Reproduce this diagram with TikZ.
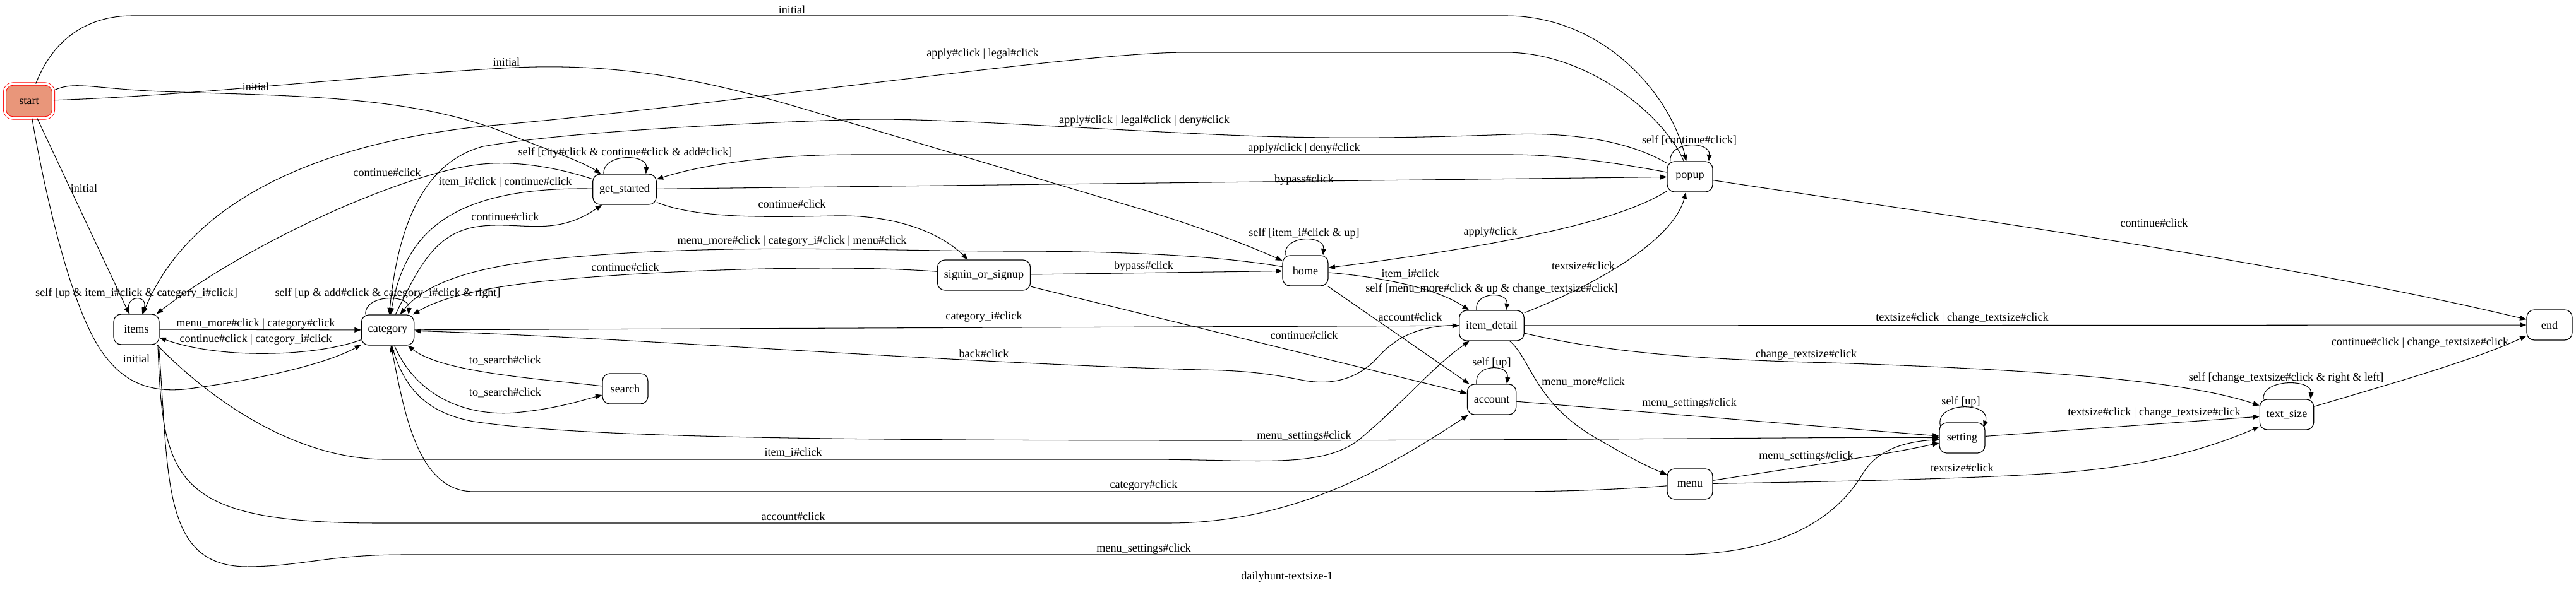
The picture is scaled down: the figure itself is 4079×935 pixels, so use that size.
\documentclass[tikz,border=0pt]{standalone}
\usepackage{fontspec}
\setmainfont{Liberation Serif}
\usetikzlibrary{arrows.meta}
\definecolor{salm}{RGB}{233,150,122}
\newcommand{\lf}{\fontsize{14pt}{16pt}\selectfont}
\begin{document}
\begin{tikzpicture}[x=0.77pt,y=-0.77pt,
  st/.style={draw, line width=0.9pt, rounded corners=9pt, minimum width=55.4pt, minimum height=37pt, inner xsep=8pt, font=\lf},
  startst/.style={draw=red, line width=0.7pt, double=white, double distance=2.6pt, fill=salm, rounded corners=10pt, minimum width=59.3pt, minimum height=41.6pt, font=\lf},
  e/.style={line width=0.8pt, -{Triangle[length=8pt,width=6pt]}},
  lb/.style={inner sep=0pt, font=\lf}]
\useasboundingbox (0,0) rectangle (4079,935);
% nodes
\node[startst] (start) at (46,160) {start};
\node[st] (items) at (216,522) {items};
\node[st] (category) at (614,523) {category};
\node[st] (get_started) at (989,300) {get\_started};
\node[st] (search) at (990,616) {search};
\node[st] (signin) at (1558,436) {signin\_or\_signup};
\node[st] (home) at (2067,429) {home};
\node[st] (popup) at (2676,280) {popup};
\node[st] (item_detail) at (2362,516) {item\_detail};
\node[st] (account) at (2362,633) {account};
\node[st] (menu) at (2676,767) {menu};
\node[st] (setting) at (3107,694) {setting};
\node[st] (text_size) at (3621,657) {text\_size};
\node[st] (end) at (4037,515) {end};
\node[lb] (title) at (2038,914) {dailyhunt-textsize-1};
% edges from start
\draw[e] (start) .. controls (85,60) and (140,25) .. (210,25) -- (2384,25) .. controls (2540,25) and (2645,150) .. (popup);
\draw[e] (start) .. controls (120,128) and (140,140) .. (255,145) .. controls (450,152) and (640,150) .. (791,207) .. controls (860,235) and (920,255) .. (get_started);
\draw[e] (start) .. controls (300,152) and (550,122) .. (797,108) .. controls (1000,96) and (1150,135) .. (1321,187) -- (1812,333) .. controls (1920,366) and (1990,395) .. (home);
\draw[e] (start) -- (items);
\draw[e] (start) .. controls (70,300) and (110,480) .. (159,554) .. controls (190,600) and (230,625) .. (300,616) .. controls (420,600) and (520,575) .. (category);
% popup edges
\draw[e] (popup) .. controls (2640,190) and (2520,83) .. (2384,83) -- (1880,83) .. controls (1760,83) and (1500,118) .. (1200,153) .. controls (1000,177) and (880,190) .. (765,200) .. controls (500,228) and (300,320) .. (items);
\draw[e] (popup) .. controls (2570,218) and (2470,210) .. (2391,213) .. controls (2250,218) and (2100,222) .. (1900,212) .. controls (1650,200) and (1450,185) .. (1335,190) .. controls (1100,198) and (880,212) .. (765,232) .. controls (660,260) and (628,380) .. (category);
\draw[e] (popup) .. controls (2560,258) and (2470,245) .. (2391,245) -- (1356,245) .. controls (1200,245) and (1100,265) .. (get_started);
\draw[e] (get_started) -- (popup);
\draw[e] (popup) .. controls (2580,340) and (2450,380) .. (home);
\draw[e] (popup) .. controls (3000,330) and (3600,410) .. (end);
% get_started edges
\draw[e] (get_started) .. controls (880,265) and (820,255) .. (765,260) .. controls (650,270) and (400,380) .. (items);
\draw[e] (get_started) .. controls (700,295) and (640,380) .. (category);
\draw[e] (category) .. controls (665,420) and (690,365) .. (765,358) .. controls (830,352) and (880,375) .. (get_started);
\draw[e] (get_started) .. controls (1100,345) and (1200,345) .. (1321,342) .. controls (1420,340) and (1490,370) .. (signin);
% home, signin
\draw[e] (home) .. controls (1900,400) and (1700,398) .. (1602,398) .. controls (1400,398) and (1150,385) .. (900,408) .. controls (780,418) and (680,440) .. (category);
\draw[e] (signin) .. controls (1350,420) and (1100,425) .. (900,442) .. controls (780,452) and (700,470) .. (category);
\draw[e] (signin) -- (home);
\draw[e] (signin) -- (account);
\draw[e] (home) .. controls (2200,440) and (2280,460) .. (item_detail);
\draw[e] (home) -- (account);
% item_detail
\draw[e] (item_detail) .. controls (2530,450) and (2650,380) .. (popup);
\draw[e] (item_detail) -- (end);
\draw[e] (item_detail) .. controls (2550,560) and (2700,570) .. (2900,575) .. controls (3200,585) and (3450,600) .. (text_size);
\draw[e] (item_detail) .. controls (2425,570) and (2430,640) .. (2532,697) .. controls (2580,725) and (2610,740) .. (menu);
\draw[e] (item_detail) .. controls (2240,515) and (2205,540) .. (2180,568) .. controls (2150,600) and (2110,612) .. (2060,602) .. controls (2000,590) and (1960,587) .. (1900,586) .. controls (1500,575) and (1000,535) .. (category);
\draw[e] (category) -- (item_detail);
% settings etc
\draw[e] (account) -- (setting);
\draw[e] (category) .. controls (640,620) and (680,655) .. (750,668) .. controls (900,690) and (1200,698) .. (1900,698) .. controls (2500,698) and (2900,692) .. (setting);
\draw[e] (menu) .. controls (2850,740) and (2980,722) .. (setting);
\draw[e] (menu) .. controls (2850,764) and (3100,760) .. (3250,750) .. controls (3400,740) and (3500,710) .. (text_size);
\draw[e] (menu) .. controls (2560,776) and (2470,779) .. (2391,779) -- (750,779) .. controls (660,779) and (640,650) .. (category);
\draw[e] (setting) -- (text_size);
\draw[e] (text_size) .. controls (3780,610) and (3920,570) .. (end);
% search
\draw[e] (category) .. controls (660,630) and (740,660) .. (816,654) .. controls (880,648) and (920,635) .. (search);
\draw[e] (search) .. controls (850,600) and (700,590) .. (category);
% items
\draw[e] (items) -- (category);
\draw[e] (category) .. controls (500,565) and (350,570) .. (items);
\draw[e] ([xshift=-3pt]items.south east) .. controls (300,600) and (440,725) .. (606,728) -- (1812,728) .. controls (2000,728) and (2100,745) .. (2160,690) .. controls (2230,630) and (2270,580) .. (item_detail);
\draw[e] ([xshift=-2pt]items.south east) .. controls (258,760) and (270,829) .. (600,829) -- (1850,829) .. controls (2050,829) and (2200,740) .. (account);
\draw[e] ([xshift=-1pt]items.south east) .. controls (268,760) and (255,900) .. (395,898) .. controls (480,897) and (520,879) .. (640,879) -- (2650,879) .. controls (2850,879) and (2920,800) .. (2950,750) .. controls (2975,710) and (3020,700) .. (setting);
% self loops
\draw[e] ([xshift=-8.5pt]items.north) .. controls +(-8pt,24pt) and +(8pt,24pt) .. ([xshift=7pt]items.north);
\draw[e] ([xshift=-27pt]category.north) .. controls +(-2pt,25pt) and +(2pt,25pt) .. ([xshift=25.4pt]category.north);
\draw[e] ([xshift=-25.4pt]get_started.north) .. controls +(-2pt,25pt) and +(2pt,25pt) .. ([xshift=26pt]get_started.north);
\draw[e] ([xshift=-24pt]popup.north) .. controls +(-2pt,25pt) and +(2pt,25pt) .. ([xshift=23pt]popup.north);
\draw[e] ([xshift=-24.6pt]home.north) .. controls +(-2pt,25pt) and +(2pt,25pt) .. ([xshift=21.6pt]home.north);
\draw[e] ([xshift=-18.5pt]item_detail.north) .. controls +(-3pt,23pt) and +(3pt,23pt) .. ([xshift=17.7pt]item_detail.north);
\draw[e] ([xshift=-18.5pt]account.north) .. controls +(-3pt,25pt) and +(3pt,25pt) .. ([xshift=18.5pt]account.north);
\draw[e] ([shift={(2pt,-6pt)}]setting.north west) .. controls +(-10pt,32pt) and +(10pt,32pt) .. ([shift={(-2pt,-6pt)}]setting.north east);
\draw[e] ([xshift=-28.5pt]text_size.north) .. controls +(-2pt,25pt) and +(2pt,25pt) .. ([xshift=29pt]text_size.north);
% labels
\node[lb] (l1) at (1254,15) {initial};
\node[lb] (l2) at (802,98) {initial};
\node[lb] (l3) at (405,137) {initial};
\node[lb] (l4) at (133,298) {initial};
\node[lb] (l5) at (216,568) {initial};
\node[lb] (l6) at (1556,85) {apply\#click | legal\#click};
\node[lb] (l7) at (1812,191) {apply\#click | legal\#click | deny\#click};
\node[lb] (l8) at (2065,235) {apply\#click | deny\#click};
\node[lb] (l9) at (2065,285) {bypass\#click};
\node[lb] (l10) at (990,242) {self [city\#click \& continue\#click \& add\#click]};
\node[lb] (l11) at (613,273) {continue\#click};
\node[lb] (l12) at (800,289) {item\_i\#click | continue\#click};
\node[lb] (l13) at (800,343) {continue\#click};
\node[lb] (l14) at (1254,323) {continue\#click};
\node[lb] (l15) at (1254,382) {menu\_more\#click | category\_i\#click | menu\#click};
\node[lb] (l16) at (2675,222) {self [continue\#click]};
\node[lb] (l17) at (2065,370) {self [item\_i\#click \& up]};
\node[lb] (l18) at (2360,368) {apply\#click};
\node[lb] (l19) at (3411,353) {continue\#click};
\node[lb] (l20) at (990,423) {continue\#click};
\node[lb] (l21) at (1811,422) {bypass\#click};
\node[lb] (l22) at (2233,434) {item\_i\#click};
\node[lb] (l23) at (2362,458) {self [menu\_more\#click \& up \& change\_textsize\#click]};
\node[lb] (l24) at (2507,421) {textsize\#click};
\node[lb] (l25) at (216,465) {self [up \& item\_i\#click \& category\_i\#click]};
\node[lb] (l26) at (614,465) {self [up \& add\#click \& category\_i\#click \& right]};
\node[lb] (l27) at (405,513) {menu\_more\#click | category\#click};
\node[lb] (l28) at (405,538) {continue\#click | category\_i\#click};
\node[lb] (l29) at (1558,502) {category\_i\#click};
\node[lb] (l30) at (1558,560) {back\#click};
\node[lb] (l31) at (2233,502) {account\#click};
\node[lb] (l32) at (2065,531) {continue\#click};
\node[lb] (l33) at (3107,504) {textsize\#click | change\_textsize\#click};
\node[lb] (l34) at (3832,543) {continue\#click | change\_textsize\#click};
\node[lb] (l35) at (2860,562) {change\_textsize\#click};
\node[lb] (l36) at (800,571) {to\_search\#click};
\node[lb] (l37) at (2362,575) {self [up]};
\node[lb] (l38) at (800,622) {to\_search\#click};
\node[lb] (l39) at (2507,605) {menu\_more\#click};
\node[lb] (l40) at (3620,599) {self [change\_textsize\#click \& right \& left]};
\node[lb] (l41) at (3105,637) {self [up]};
\node[lb] (l42) at (2675,639) {menu\_settings\#click};
\node[lb] (l43) at (3411,654) {textsize\#click | change\_textsize\#click};
\node[lb] (l44) at (2065,691) {menu\_settings\#click};
\node[lb] (l45) at (1256,717) {item\_i\#click};
\node[lb] (l46) at (2860,723) {menu\_settings\#click};
\node[lb] (l47) at (3107,741) {textsize\#click};
\node[lb] (l48) at (1811,769) {category\#click};
\node[lb] (l49) at (1256,818) {account\#click};
\node[lb] (l50) at (1811,870) {menu\_settings\#click};
\end{tikzpicture}
\end{document}
